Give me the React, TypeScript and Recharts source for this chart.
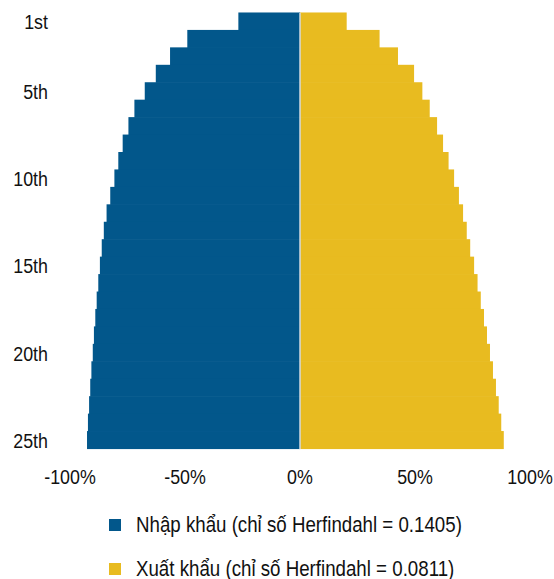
import { BarChart, Bar, XAxis, YAxis, ReferenceLine } from 'recharts';

const ranks = [
  '1st', '2nd', '3rd', '4th', '5th', '6th', '7th', '8th', '9th', '10th',
  '11th', '12th', '13th', '14th', '15th', '16th', '17th', '18th', '19th', '20th',
  '21st', '22nd', '23rd', '24th', '25th',
];
const rankTicks = ['1st', '5th', '10th', '15th', '20th', '25th'];

// cumulative share (%) of top-N partners
const importShare = [
  26.8, 49.0, 56.5, 62.7, 67.5, 72.0, 74.6, 77.1, 79.0, 80.7,
  82.5, 84.1, 85.3, 86.2, 87.0, 87.7, 88.4, 89.0, 89.6, 90.1,
  90.7, 91.2, 91.7, 92.2, 92.6,
];
const exportShare = [
  20.3, 34.6, 42.6, 49.6, 53.2, 56.4, 59.6, 62.2, 64.6, 67.0,
  69.1, 70.9, 72.5, 74.0, 75.7, 77.2, 78.6, 80.0, 81.3, 82.6,
  83.9, 85.2, 86.4, 87.5, 88.6,
];
const xTicks = [-100, -50, 0, 50, 100];

const importLabel = 'Nhập khẩu (chỉ số Herfindahl = 0.1405)';
const exportLabel = 'Xuất khẩu (chỉ số Herfindahl = 0.0811)';

const BLUE = '#02578b';
const YELLOW = '#e8bb20';
const FONT = '"Liberation Sans", Arial, sans-serif';
const NARROW = 0.85; // squeeze to mimic a condensed face

const W = 554;
const H = 579;
const MARGIN = { top: 13, right: 24, left: 14, bottom: 100 };
const X_AXIS_H = 30;
// row height of the category band, so bars touch with no seams
const BAND = (H - MARGIN.top - MARGIN.bottom - X_AXIS_H) / ranks.length;

const data = ranks.map((rank, i) => ({
  rank,
  imports: -importShare[i],
  exports: exportShare[i],
}));

function FullBar({ x, y, width, height, fill }: any) {
  const cy = y + height / 2;
  const x0 = Math.min(x, x + width);
  return <rect x={x0} y={cy - BAND / 2 - 0.3} width={Math.abs(width)} height={BAND + 0.6} fill={fill} />;
}

function XTick({ x, y, payload }: any) {
  return (
    <g transform={`translate(${x},${y})`}>
      <text transform={`scale(${NARROW},1)`} textAnchor="middle" dy="0.71em" fill="#111" fontSize={21} fontFamily={FONT}>
        {`${payload.value}%`}
      </text>
    </g>
  );
}

function YTick({ x, y, payload }: any) {
  return (
    <g transform={`translate(${x},${y})`}>
      <text transform={`scale(${NARROW},1)`} textAnchor="end" dy="0.355em" fill="#111" fontSize={21} fontFamily={FONT}>
        {payload.value}
      </text>
    </g>
  );
}

function LegendRow({ color, label, top }: { color: string; label: string; top: number }) {
  return (
    <div style={{ position: 'absolute', left: 109, top, height: 20, display: 'flex', alignItems: 'center' }}>
      <div style={{ width: 12, height: 12, background: color }} />
      <span
        style={{
          marginLeft: 15,
          fontSize: 22,
          lineHeight: '20px',
          color: '#111',
          whiteSpace: 'nowrap',
          display: 'inline-block',
          transform: `scaleX(${NARROW})`,
          transformOrigin: 'left center',
        }}
      >
        {label}
      </span>
    </div>
  );
}

export default function App() {
  return (
    <div style={{ position: 'absolute', left: 0, top: 0, width: W, height: H, background: '#fff', fontFamily: FONT }}>
      <BarChart
        width={W}
        height={H}
        data={data}
        layout="vertical"
        stackOffset="sign"
        barCategoryGap={0}
        margin={MARGIN}
      >
        <XAxis
          type="number"
          domain={[-100, 100]}
          ticks={xTicks}
          axisLine={false}
          tickLine={false}
          tickSize={0}
          tickMargin={20}
          height={X_AXIS_H}
          tick={<XTick />}
        />
        <YAxis
          type="category"
          dataKey="rank"
          ticks={rankTicks}
          interval={0}
          axisLine={false}
          tickLine={false}
          tickSize={0}
          tickMargin={22}
          width={56}
          tick={<YTick />}
        />
        <Bar dataKey="imports" stackId="a" fill={BLUE} shape={<FullBar />} isAnimationActive={false} />
        <Bar dataKey="exports" stackId="a" fill={YELLOW} shape={<FullBar />} isAnimationActive={false} />
        <ReferenceLine x={0} stroke="#d4dae0" strokeWidth={1.5} />
      </BarChart>
      <LegendRow color={BLUE} label={importLabel} top={515} />
      <LegendRow color={YELLOW} label={exportLabel} top={559} />
    </div>
  );
}
